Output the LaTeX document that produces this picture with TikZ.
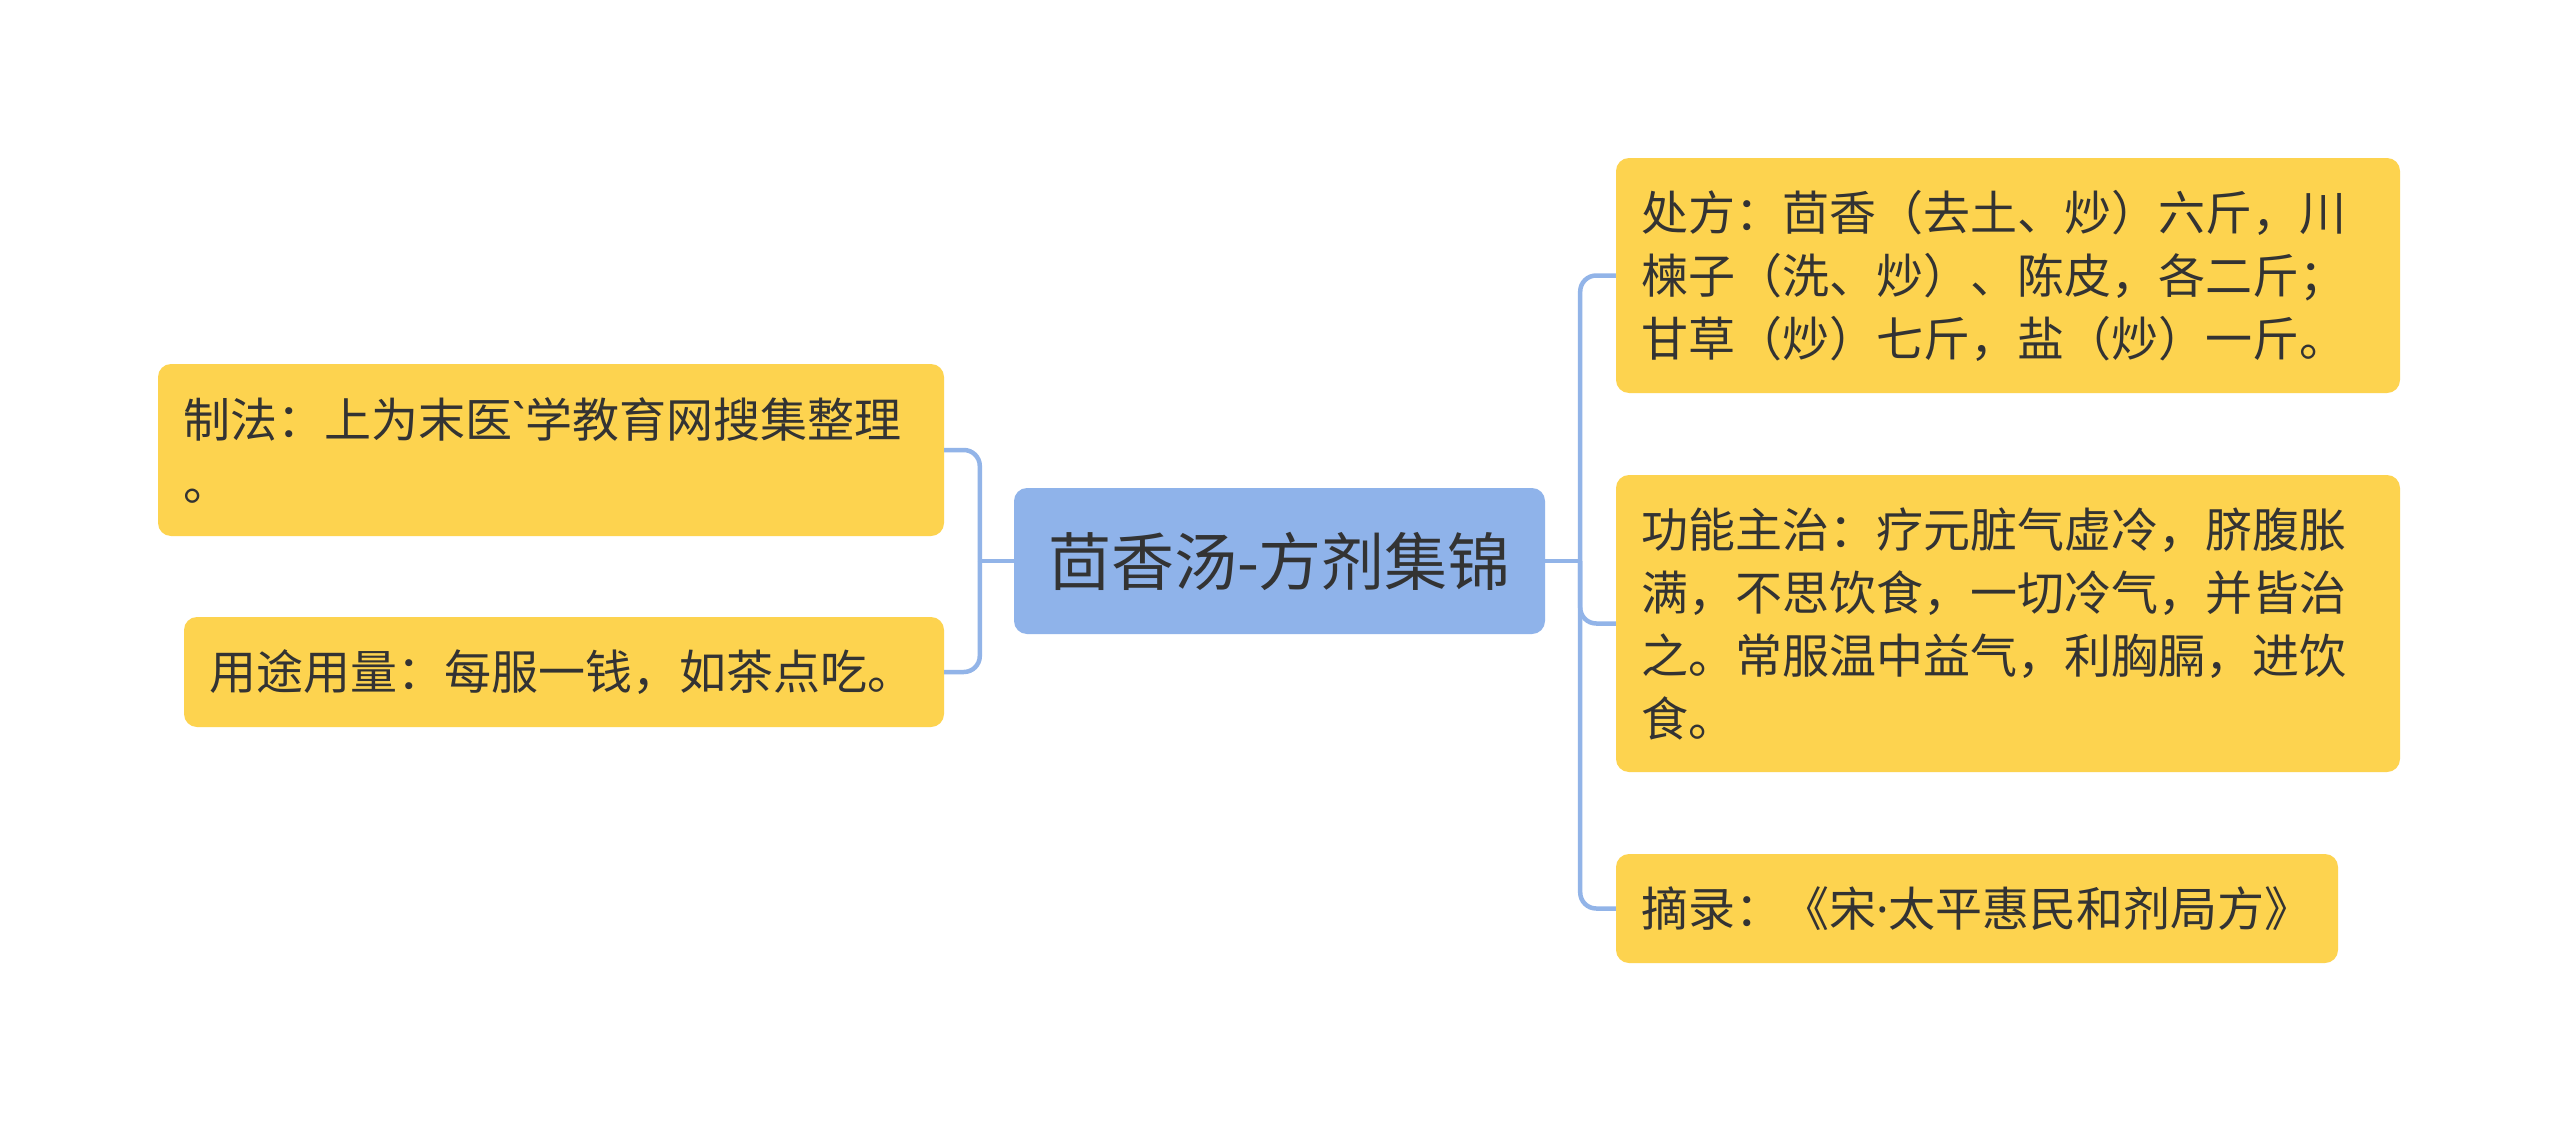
\documentclass[tikz,border=0pt]{standalone}
\usepackage{fontspec}
\setmainfont{Noto Sans CJK SC}
\newfontfamily\latinf{Noto Sans}[Ligatures=ResetAll]
\definecolor{boxyellow}{HTML}{FDD34F}
\definecolor{boxblue}{HTML}{8FB3EA}
\definecolor{connblue}{HTML}{92B4E8}
\definecolor{txt}{HTML}{333333}
\tikzset{
  leaf/.style={fill=boxyellow, rounded corners=13pt, inner xsep=25pt, inner ysep=0pt,
    align=left, text=txt, font=\fontsize{47}{63}\selectfont, anchor=center},
  rootbox/.style={fill=boxblue, rounded corners=13pt, inner sep=0pt, align=center,
    text=txt, font=\fontsize{63}{70}\selectfont, anchor=center},
  conn/.style={draw=connblue, line width=4.5pt, rounded corners=16pt}
}
\begin{document}
\begin{tikzpicture}[x=1pt,y=-1pt]
\useasboundingbox[fill=white] (0,0) rectangle (2560,1124);
\node[rootbox, minimum width=531pt, minimum height=146pt] (c) at (1279.5,561) {茴香汤-方剂集锦};
\node[leaf, text width=736pt, minimum height=172pt] (l1) at (551,450)
  {制法：上为末医{\latinf `}学教育网搜集整理\\。};
\node[leaf, text width=710pt, minimum height=110pt] (l2) at (564,672)
  {用途用量：每服一钱，如茶点吃。};
\node[leaf, text width=734pt, minimum height=235pt] (r1) at (2008,275.5)
  {处方：茴香（去土、炒）六斤，川\\楝子（洗、炒）、陈皮，各二斤；\\甘草（炒）七斤，盐（炒）一斤。};
\node[leaf, text width=734pt, minimum height=297pt] (r2) at (2008,623.5)
  {功能主治：疗元脏气虚冷，脐腹胀\\满，不思饮食，一切冷气，并皆治\\之。常服温中益气，利胸膈，进饮\\食。};
\node[leaf, text width=672pt, minimum height=109pt] (r3) at (1977,908.5)
  {摘录：《宋{\latinf ·}太平惠民和剂局方》};
\coordinate (lj) at ([xshift=-34pt]c.west);
\coordinate (rj) at ([xshift=35pt]c.east);
\draw[conn] (c.west) -- (lj);
\draw[conn] (lj) |- (l1.east);
\draw[conn] (lj) |- (l2.east);
\draw[conn] (c.east) -- (rj);
\draw[conn] (rj) |- (r1.west);
\draw[conn] (rj) |- (r2.west);
\draw[conn] (rj) |- (r3.west);
\end{tikzpicture}
\end{document}
